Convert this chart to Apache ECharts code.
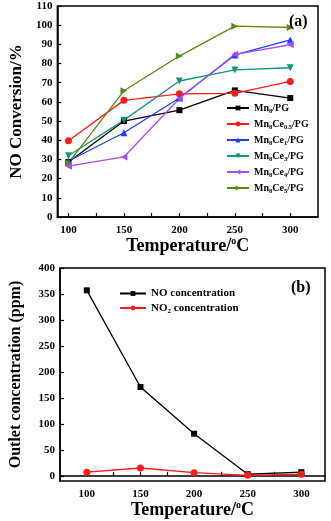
<!DOCTYPE html>
<html><head><meta charset="utf-8">
<script src="https://cdn.jsdelivr.net/npm/echarts@6/dist/echarts.min.js"></script>
<style>html,body{margin:0;padding:0;background:#fff}#c{width:331px;height:521px}</style>
</head><body><div id="c"></div>
<script>
// ---- data ----
const temps = [100, 150, 200, 250, 300];
const mn8 = [28.7, 50.0, 55.7, 66.0, 62.0];
const mn8ce05 = [39.7, 60.8, 64.2, 64.5, 70.7];
const mn8ce1 = [29.2, 43.9, 62.0, 84.5, 92.3];
const mn8ce3 = [31.9, 50.5, 70.9, 76.7, 77.8];
const mn8ce4 = [26.5, 31.3, 61.8, 84.8, 89.8];
const mn8ce5 = [28.2, 65.8, 83.9, 99.5, 98.8];
const noConc = [357, 171, 81, 3, 7];
const no2Conc = [7, 15, 6, 1, 3];
const xLabelValues = [100, 150, 200, 250, 300];
const xTickValues = [100, 125, 150, 175, 200, 225, 250, 275, 300];
const yLabelsB = [0, 50, 100, 150, 200, 250, 300, 350, 400];

const FONT = '"Liberation Serif","Times New Roman",serif';
const pair = (ys) => temps.map((t, i) => [t, ys[i]]);

const topSeries = [
  {name: 'Mn8/PG', data: mn8, color: '#000000', symbol: 'rect', rot: 0, label: '{n|Mn}{s|8}{n|/PG}'},
  {name: 'Mn8Ce0.5/PG', data: mn8ce05, color: '#ff1a1a', symbol: 'circle', rot: 0, label: '{n|Mn}{s|8}{n|Ce}{s|0.5}{n|/PG}'},
  {name: 'Mn8Ce1/PG', data: mn8ce1, color: '#1f3fff', symbol: 'triangle', rot: 0, label: '{n|Mn}{s|8}{n|Ce}{s|1}{n|/PG}'},
  {name: 'Mn8Ce3/PG', data: mn8ce3, color: '#13957a', symbol: 'triangle', rot: 180, label: '{n|Mn}{s|8}{n|Ce}{s|3}{n|/PG}'},
  {name: 'Mn8Ce4/PG', data: mn8ce4, color: '#a64dff', symbol: 'triangle', rot: 90, label: '{n|Mn}{s|8}{n|Ce}{s|4}{n|/PG}'},
  {name: 'Mn8Ce5/PG', data: mn8ce5, color: '#5b8a14', symbol: 'triangle', rot: -90, label: '{n|Mn}{s|8}{n|Ce}{s|5}{n|/PG}'}
];
const botSeries = [
  {name: 'NO concentration', data: noConc, color: '#000000', symbol: 'rect', label: '{n|NO concentration}'},
  {name: 'NO2 concentration', data: no2Conc, color: '#ff1a1a', symbol: 'circle', label: '{n|NO}{s|2}{n| concentration}'}
];

const rich = {
  n: {fontFamily: FONT, fontWeight: 'bold', fontSize: 10, color: '#000'},
  s: {fontFamily: FONT, fontWeight: 'bold', fontSize: 6.5, color: '#000', padding: [6, 0, 0, 0]}
};
const richB = {
  n: {fontFamily: FONT, fontWeight: 'bold', fontSize: 11, color: '#000'},
  s: {fontFamily: FONT, fontWeight: 'bold', fontSize: 7, color: '#000', padding: [6, 0, 0, 0]}
};
const nameRich = {
  t: {fontFamily: FONT, fontWeight: 'bold', fontSize: 18, color: '#000'},
  sup: {fontFamily: FONT, fontWeight: 'bold', fontSize: 10, color: '#000', padding: [0, 0, 9, 0]}
};

const labelStyle = {fontFamily: FONT, fontWeight: 'bold', fontSize: 11, color: '#000'};
const axLine = {show: true, lineStyle: {color: '#000', width: 1.5}};

const series = [];
const legends = [];
topSeries.forEach((s, i) => {
  series.push({
    name: s.name, type: 'line', xAxisIndex: 0, yAxisIndex: 0,
    data: pair(s.data), symbol: s.symbol, symbolRotate: s.rot,
    symbolSize: s.symbol === 'rect' ? 6 : 7,
    lineStyle: {color: s.color, width: 1.3}, itemStyle: {color: s.color}
  });
  legends.push({
    data: [s.name], left: 226, top: 103 + i * 16, itemWidth: 22, itemHeight: 6,
    itemGap: 0, padding: 0,
    formatter: () => s.label, textStyle: {rich: rich}
  });
});
botSeries.forEach((s, i) => {
  series.push({
    name: s.name, type: 'line', xAxisIndex: 1, yAxisIndex: 1,
    data: pair(s.data), symbol: s.symbol, symbolSize: s.symbol === 'rect' ? 6 : 7,
    lineStyle: {color: s.color, width: 1.3}, itemStyle: {color: s.color}
  });
  legends.push({
    data: [s.name], left: 119, top: 288 + i * 14.5, itemWidth: 26, itemHeight: 6,
    itemGap: 0, padding: 0,
    formatter: () => s.label, textStyle: {rich: richB}
  });
});

function xAxis(gridIndex, min, max) {
  return {
    type: 'value', gridIndex, min, max,
    axisLine: axLine,
    axisTick: {show: true, inside: true, length: 4, customValues: xTickValues, lineStyle: {color: '#000', width: 1.2}},
    axisLabel: {customValues: xLabelValues, margin: 8, ...labelStyle},
    splitLine: {show: false},
    name: '{t|Temperature/}{sup|o}{t|C}', nameLocation: 'middle', nameGap: 18,
    nameTextStyle: {rich: nameRich}
  };
}

const option = {
  animation: false,
  backgroundColor: '#fff',
  title: [
    {text: '(a)', left: 289, top: 14, padding: 0, textStyle: {fontFamily: FONT, fontWeight: 'bold', fontSize: 16, color: '#000'}},
    {text: '(b)', left: 291, top: 280, padding: 0, textStyle: {fontFamily: FONT, fontWeight: 'bold', fontSize: 16, color: '#000'}}
  ],
  grid: [
    {left: 42, top: 6, width: 276, height: 211, show: true, borderColor: '#000', borderWidth: 1.5, backgroundColor: 'transparent'},
    {left: 55, top: 268, width: 270, height: 213, show: true, borderColor: '#000', borderWidth: 1.5, backgroundColor: 'transparent'}
  ],
  xAxis: [xAxis(0, 90, 325), xAxis(1, 75, 322)],
  yAxis: [
    {
      type: 'value', gridIndex: 0, min: 0, max: 110, interval: 10,
      axisLine: axLine,
      axisTick: {show: true, inside: true, length: 4, lineStyle: {color: '#000', width: 1.2}},
      axisLabel: {margin: 5, ...labelStyle},
      splitLine: {show: false},
      name: 'NO Conversion/%', nameLocation: 'middle', nameGap: 27,
      nameTextStyle: {fontFamily: FONT, fontWeight: 'bold', fontSize: 17, color: '#000'}
    },
    {
      type: 'value', gridIndex: 1, min: -10, max: 400,
      axisLine: axLine,
      axisTick: {show: true, inside: true, length: 4, customValues: yLabelsB, lineStyle: {color: '#000', width: 1.2}},
      axisLabel: {customValues: yLabelsB, margin: 5, ...labelStyle},
      splitLine: {show: false},
      name: 'Outlet concentration (ppm)', nameLocation: 'middle', nameGap: 36,
      nameTextStyle: {fontFamily: FONT, fontWeight: 'bold', fontSize: 16, color: '#000'}
    }
  ],
  legend: legends,
  series: series
};

const chart = echarts.init(document.getElementById('c'), null, {renderer: 'canvas'});
chart.setOption(option);
</script>
</body></html>
